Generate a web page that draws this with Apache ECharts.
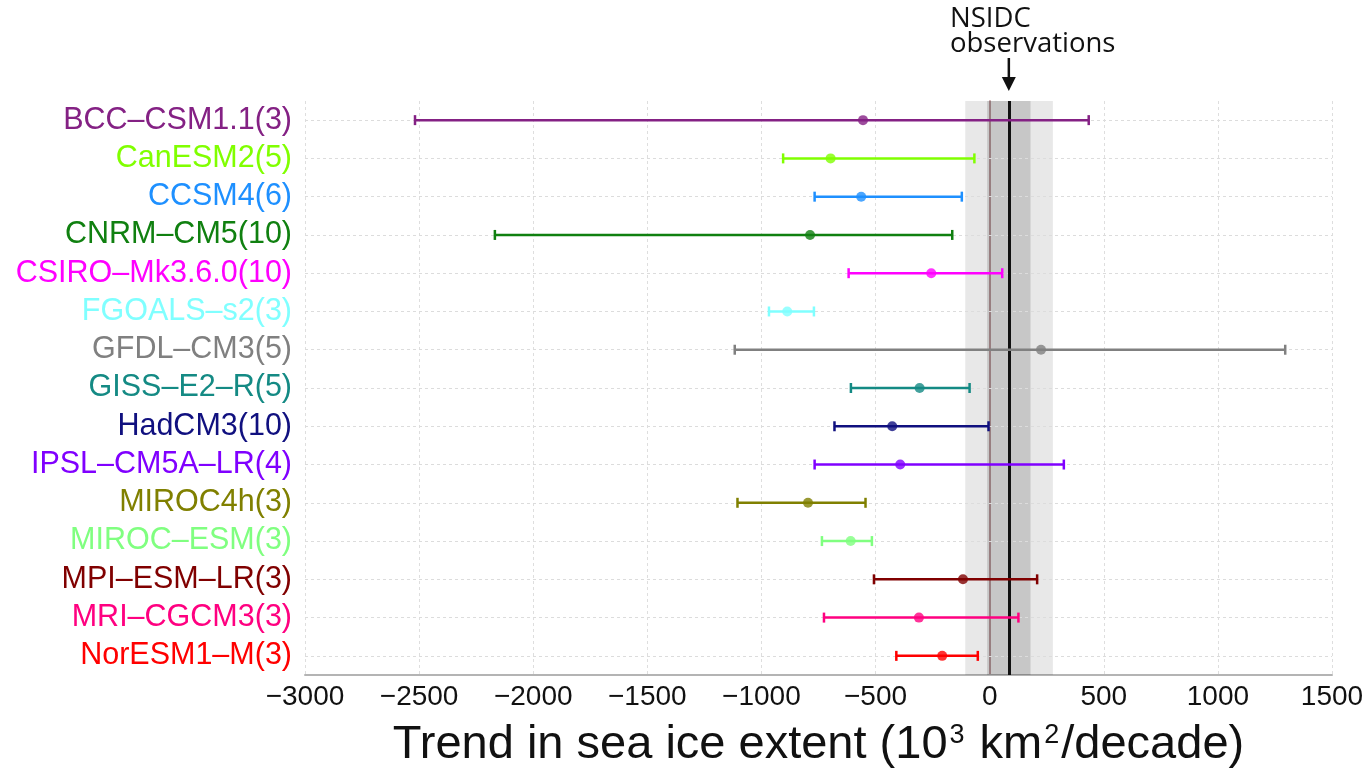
<!DOCTYPE html>
<html>
<head>
<meta charset="utf-8">
<script src="https://cdn.jsdelivr.net/npm/echarts@6/dist/echarts.min.js"></script>
<style>
  html, body { margin: 0; padding: 0; background: #fff; }
  #chart { width: 1367px; height: 775px; }
</style>
</head>
<body>
<div id="chart"></div>
<script>
// model runs (ensemble size in brackets)
const models = ['BCC–CSM1.1(3)', 'CanESM2(5)', 'CCSM4(6)', 'CNRM–CM5(10)', 'CSIRO–Mk3.6.0(10)', 'FGOALS–s2(3)', 'GFDL–CM3(5)', 'GISS–E2–R(5)', 'HadCM3(10)', 'IPSL–CM5A–LR(4)', 'MIROC4h(3)', 'MIROC–ESM(3)', 'MPI–ESM–LR(3)', 'MRI–CGCM3(3)', 'NorESM1–M(3)']
const trendLow = [-2518, -905, -767, -2168, -618, -967, -1117, -608, -680, -767, -1105, -735, -507, -726, -409]
const trendMean = [-555, -697, -563, -787, -256, -887, 225, -307, -427, -392, -796, -609, -117, -310, -208]
const trendHigh = [434, -67, -122, -164, 55, -770, 1295, -88, -5, 325, -544, -516, 208, 126, -52]
const modelColors = ['#842184', '#80ff00', '#1e90ff', '#108010', '#ff00ff', '#80ffff', '#808080', '#148a84', '#10107f', '#8000ff', '#808000', '#80ff80', '#800000', '#ff0080', '#ff0000']

// NSIDC observed trend and its uncertainty bands
const obsTrend = 84
const obsBand1 = [-11, 179]
const obsBand2 = [-107, 277]

const xMin = -3000
const xMax = 1500
const xStep = 500

const chart = echarts.init(document.getElementById('chart'))
const fontMain = 'Liberation Sans, Arial, sans-serif'

function renderBar (params, api) {
  const row = api.value(0)
  const lo = api.coord([api.value(1), row])
  const hi = api.coord([api.value(2), row])
  const cap = 5
  const style = { stroke: api.visual('color'), lineWidth: 2.5 }
  return {
    type: 'group',
    children: [
      { type: 'line', shape: { x1: lo[0], y1: lo[1], x2: hi[0], y2: hi[1] }, style },
      { type: 'line', shape: { x1: lo[0], y1: lo[1] - cap, x2: lo[0], y2: lo[1] + cap }, style },
      { type: 'line', shape: { x1: hi[0], y1: hi[1] - cap, x2: hi[0], y2: hi[1] + cap }, style }
    ]
  }
}

const option = {
  backgroundColor: '#fff',
  animation: false,
  grid: { left: 305, right: 35, top: 101, bottom: 100 },
  xAxis: {
    type: 'value',
    min: xMin,
    max: xMax,
    interval: xStep,
    name: 'Trend in sea ice extent (10{sup|3} km{sup|2}/decade)',
    nameLocation: 'middle',
    nameGap: 47,
    nameTextStyle: {
      fontSize: 47,
      color: '#111',
      fontFamily: fontMain,
      rich: {
        sup: { fontSize: 27, color: '#111', fontFamily: fontMain, verticalAlign: 'top', padding: [0, 2, 0, 2] }
      }
    },
    axisLine: { show: true, onZero: false, lineStyle: { color: '#b4b4b4', width: 2 } },
    axisTick: { show: false },
    axisLabel: {
      fontSize: 28,
      color: '#111',
      fontFamily: fontMain,
      margin: 8,
      formatter: v => String(v).replace('-', '−')
    },
    splitLine: { show: true, lineStyle: { color: '#dedede', type: [3, 3], width: 1 } }
  },
  yAxis: {
    type: 'category',
    inverse: true,
    data: models,
    axisLine: { show: true, lineStyle: { color: '#c4a2a4', width: 2 } },
    axisTick: { show: false },
    splitLine: { show: false },
    axisLabel: {
      interval: 0,
      fontSize: 30.5,
      fontFamily: fontMain,
      margin: 13,
      color: (value, index) => modelColors[models.indexOf(value)]
    }
  },
  series: [
    {
      // shaded observational uncertainty
      type: 'scatter',
      z: 1,
      silent: true,
      symbolSize: 0,
      data: [[obsTrend, 0]],
      markArea: {
        silent: true,
        z: 1,
        data: [
          [{ xAxis: obsBand2[0], itemStyle: { color: 'rgba(0,0,0,0.09)' } }, { xAxis: obsBand2[1] }],
          [{ xAxis: obsBand1[0], itemStyle: { color: 'rgba(0,0,0,0.14)' } }, { xAxis: obsBand1[1] }]
        ]
      }
    },
    {
      // horizontal dotted guides through each model row
      type: 'scatter',
      z: 2,
      silent: true,
      symbolSize: 0,
      data: [[obsTrend, 0]],
      markLine: {
        silent: true,
        z: 2,
        symbol: 'none',
        label: { show: false },
        lineStyle: { color: '#dcdcdc', type: [3, 3], width: 1 },
        data: models.map(m => ({ yAxis: m }))
      }
    },
    {
      // NSIDC observed trend
      type: 'scatter',
      z: 3,
      silent: true,
      symbolSize: 0,
      data: [[obsTrend, 0]],
      markLine: {
        silent: true,
        z: 3,
        symbol: 'none',
        label: { show: false },
        lineStyle: { color: '#111', type: 'solid', width: 3 },
        data: [{ xAxis: obsTrend }]
      }
    },
    {
      type: 'custom',
      z: 4,
      renderItem: renderBar,
      encode: { x: [1, 2], y: 0 },
      data: models.map((m, i) => ({
        value: [i, trendLow[i], trendHigh[i]],
        itemStyle: { color: modelColors[i] }
      }))
    },
    {
      type: 'scatter',
      z: 5,
      symbol: 'circle',
      symbolSize: 10,
      data: models.map((m, i) => ({
        value: [trendMean[i], i],
        itemStyle: { color: modelColors[i] }
      }))
    }
  ]
}

chart.setOption(option)

// annotation pointing at the observed trend
const ax = chart.convertToPixel({ xAxisIndex: 0 }, obsTrend)
chart.setOption({
  graphic: [
    {
      type: 'text', left: 950, top: 5,
      style: { text: 'NSIDC', fontSize: 27.5, fill: '#111', fontFamily: 'Open Sans, sans-serif' }
    },
    {
      type: 'text', left: 950, top: 30,
      style: { text: 'observations', fontSize: 27.5, fill: '#111', fontFamily: 'Open Sans, sans-serif' }
    },
    {
      type: 'line',
      shape: { x1: ax, y1: 58, x2: ax, y2: 80 },
      style: { stroke: '#111', lineWidth: 2.5 }
    },
    {
      type: 'polygon',
      shape: { points: [[ax - 7, 77], [ax + 7, 77], [ax, 91]] },
      style: { fill: '#111' }
    }
  ]
})
</script>
</body>
</html>
